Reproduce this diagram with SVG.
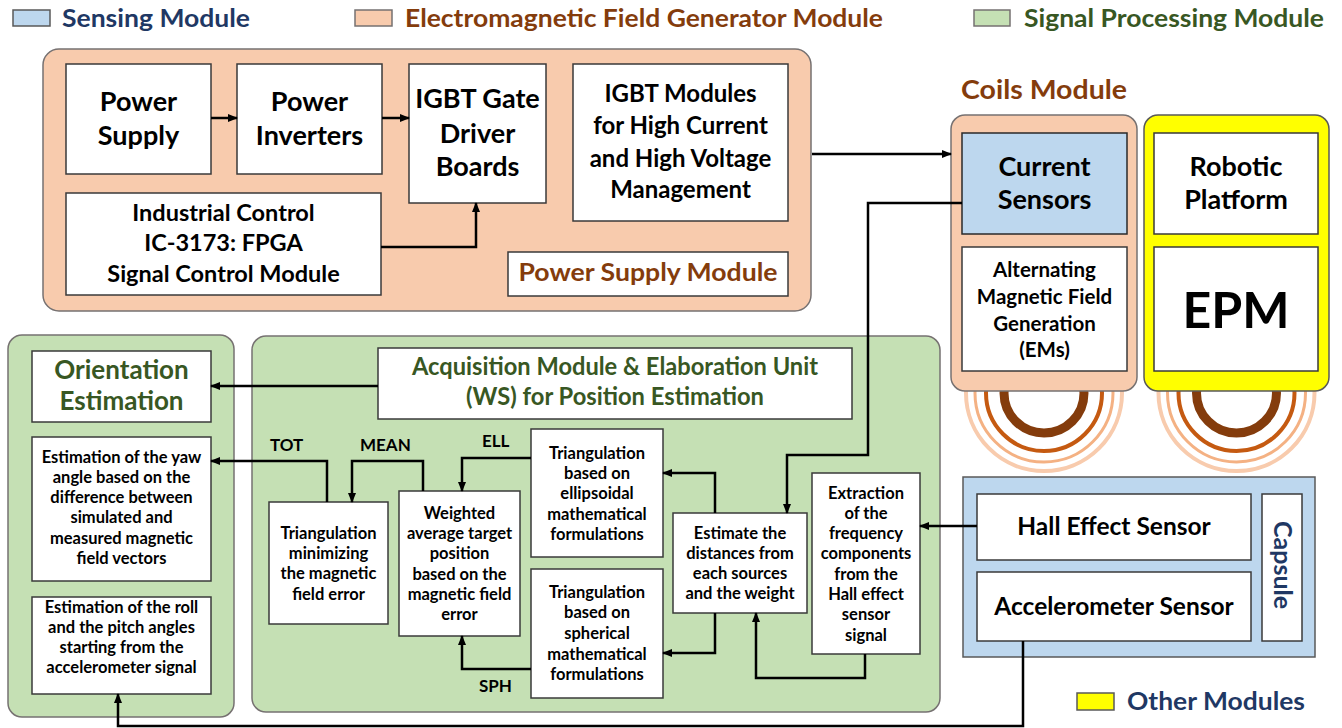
<svg xmlns="http://www.w3.org/2000/svg" width="1342" height="728" viewBox="0 0 1342 728">
<defs>
<marker id="ah" markerUnits="userSpaceOnUse" markerWidth="10" markerHeight="10" refX="9" refY="5" orient="auto">
<path d="M0,1 L10,5 L0,9 z" fill="#000"/>
</marker>
<style>
text{font-family:Lato,"Liberation Sans",sans-serif;font-weight:bold;text-anchor:middle;fill:#000}
.st{text-anchor:start}
.box{fill:#fff;stroke:#3a3a3a;stroke-width:1.5}
.peach{fill:#f8cbad;stroke:#767171;stroke-width:1.5}
.green{fill:#c5e0b4;stroke:#767171;stroke-width:1.5}
.blue{fill:#bdd7ee;stroke:#595959;stroke-width:1.5}
.yellow{fill:#ffff00;stroke:#595959;stroke-width:1.5}
.navy{fill:#1f3864}
.brown{fill:#843c0c}
.dg{fill:#385723}
.c{fill:none;stroke:#000;stroke-width:2.5}
.ca{fill:none;stroke:#000;stroke-width:2.5;marker-end:url(#ah)}
.leg{font-size:25px}
.big{font-size:27px}
.mid{font-size:24px}
.mid2{font-size:23.5px}
.hs{font-size:24.5px}
.ori{font-size:26px}
.sm{font-size:20.5px}
.xs{font-size:16.5px}
.lab{font-size:17px}
.a1{fill:none;stroke:#843c0c;stroke-width:9}
.a2{fill:none;stroke:#c55a11;stroke-width:4}
.a3{fill:none;stroke:#f4b183;stroke-width:3}
.a4{fill:none;stroke:#f8cbad;stroke-width:4}
</style>
</defs>

<g id="legend">
<rect class="blue" x="13" y="10" width="37" height="16"/>
<text class="leg navy st" x="62" y="27" textLength="188" lengthAdjust="spacingAndGlyphs">Sensing Module</text>
<rect class="peach" x="355" y="10" width="37" height="16"/>
<text class="leg brown st" x="405" y="27" textLength="478" lengthAdjust="spacingAndGlyphs">Electromagnetic Field Generator Module</text>
<rect class="green" x="974" y="10" width="36" height="16"/>
<text class="leg dg st" x="1024" y="27" textLength="300" lengthAdjust="spacingAndGlyphs">Signal Processing Module</text>
<rect class="yellow" x="1077" y="693" width="37" height="17"/>
<text class="leg navy st" x="1127" y="710" textLength="178" lengthAdjust="spacingAndGlyphs">Other Modules</text>
</g>

<g id="coil-arcs">
<circle class="a4" cx="1044" cy="393" r="78"/>
<circle class="a3" cx="1044" cy="393" r="69"/>
<circle class="a2" cx="1044" cy="393" r="58"/>
<circle class="a1" cx="1044" cy="393" r="40"/>
<circle class="a4" cx="1236.5" cy="393" r="78"/>
<circle class="a3" cx="1236.5" cy="393" r="69"/>
<circle class="a2" cx="1236.5" cy="393" r="58"/>
<circle class="a1" cx="1236.5" cy="393" r="40"/>
</g>

<g id="emfg-module">
<rect class="peach" x="43" y="49" width="768" height="262" rx="16"/>
</g>
<g id="power-supply">
<rect class="box" x="66" y="64" width="145" height="110"/>
<text class="big" x="138.5" y="111">Power</text>
<text class="big" x="138.5" y="145">Supply</text>
</g>
<g id="power-inverters">
<rect class="box" x="237" y="64" width="145" height="110"/>
<text class="big" x="309.5" y="111">Power</text>
<text class="big" x="309.5" y="145">Inverters</text>
</g>
<g id="igbt-gate">
<rect class="box" x="409" y="64" width="137" height="139"/>
<text class="big" x="477.5" y="108">IGBT Gate</text>
<text class="big" x="477.5" y="143">Driver</text>
<text class="big" x="477.5" y="176">Boards</text>
</g>
<g id="igbt-modules">
<rect class="box" x="573" y="64" width="215" height="157"/>
<text class="mid" x="680.5" y="102">IGBT Modules</text>
<text class="mid" x="680.5" y="134">for High Current</text>
<text class="mid" x="680.5" y="167">and High Voltage</text>
<text class="mid" x="680.5" y="198">Management</text>
</g>
<g id="industrial-control">
<rect class="box" x="66" y="193" width="315" height="102"/>
<text class="mid2" x="223.5" y="221">Industrial Control</text>
<text class="mid2" x="223.5" y="251">IC-3173: FPGA</text>
<text class="mid2" x="223.5" y="282">Signal Control Module</text>
</g>
<g id="power-supply-module">
<rect class="box" x="508" y="252" width="280" height="44"/>
<text class="mid brown" x="648" y="281" textLength="259" lengthAdjust="spacingAndGlyphs">Power Supply Module</text>
</g>

<g id="coils-module">
<text class="big brown st" x="961" y="99" textLength="166" lengthAdjust="spacingAndGlyphs">Coils Module</text>
<rect class="peach" x="951" y="115" width="186" height="276" rx="14"/>
</g>
<g id="current-sensors">
<rect class="blue" x="962" y="133" width="165" height="101" style="stroke:#2a2a2a"/>
<text class="big" x="1044.5" y="176">Current</text>
<text class="big" x="1044.5" y="209">Sensors</text>
</g>
<g id="alternating-field">
<rect class="box" x="962" y="247" width="165" height="124"/>
<text class="sm" x="1044.5" y="277">Alternating</text>
<text class="sm" x="1044.5" y="304">Magnetic Field</text>
<text class="sm" x="1044.5" y="331">Generation</text>
<text class="sm" x="1044.5" y="357">(EMs)</text>
</g>

<g id="other-modules">
<rect class="yellow" x="1144" y="115" width="185" height="276" rx="14"/>
</g>
<g id="robotic-platform">
<rect class="box" x="1154" y="133" width="164" height="101"/>
<text class="big" x="1236" y="176">Robotic</text>
<text class="big" x="1236" y="209">Platform</text>
</g>
<g id="epm">
<rect class="box" x="1154" y="247" width="164" height="124"/>
<text x="1236" y="328" style="font-size:50px">EPM</text>
</g>

<g id="capsule">
<rect class="blue" x="963" y="477" width="352" height="180"/>
<rect class="box" x="1262" y="494" width="40" height="147"/>
<text class="navy" style="font-size:25px" transform="translate(1274,565) rotate(90)" x="0" y="0">Capsule</text>
</g>
<g id="hall-sensor">
<rect class="box" x="977" y="494" width="274" height="66"/>
<text class="hs" x="1114" y="535">Hall Effect Sensor</text>
</g>
<g id="accelerometer">
<rect class="box" x="977" y="572" width="274" height="69"/>
<text class="hs" x="1114" y="615">Accelerometer Sensor</text>
</g>

<g id="orientation-module">
<rect class="green" x="8" y="335" width="226" height="382" rx="14"/>
</g>
<g id="orientation-estimation">
<rect class="box" x="32" y="351" width="179" height="71"/>
<text class="ori dg" x="121.5" y="379">Orientation</text>
<text class="ori dg" x="121.5" y="410">Estimation</text>
</g>
<g id="yaw-estimation">
<rect class="box" x="32" y="437" width="179" height="144"/>
<text class="xs" x="121.5" y="463">Estimation of the yaw</text>
<text class="xs" x="121.5" y="483">angle based on the</text>
<text class="xs" x="121.5" y="503">difference between</text>
<text class="xs" x="121.5" y="523">simulated and</text>
<text class="xs" x="121.5" y="544">measured magnetic</text>
<text class="xs" x="121.5" y="564">field vectors</text>
</g>
<g id="roll-pitch-estimation">
<rect class="box" x="32" y="597" width="179" height="97"/>
<text class="xs" x="121.5" y="613">Estimation of the roll</text>
<text class="xs" x="121.5" y="633">and the pitch angles</text>
<text class="xs" x="121.5" y="653">starting from the</text>
<text class="xs" x="121.5" y="673">accelerometer signal</text>
</g>

<g id="acquisition-module">
<rect class="green" x="252" y="336" width="688" height="376" rx="14"/>
</g>
<g id="acquisition-title">
<rect class="box" x="378" y="348" width="474" height="71"/>
<text class="mid dg" x="615" y="375" textLength="406" lengthAdjust="spacingAndGlyphs">Acquisition Module &amp; Elaboration Unit</text>
<text class="mid dg" x="615" y="405" textLength="298" lengthAdjust="spacingAndGlyphs">(WS) for Position Estimation</text>
</g>
<g id="triangulation-min">
<rect class="box" x="269" y="502" width="119" height="122"/>
<text class="xs" x="328.5" y="539">Triangulation</text>
<text class="xs" x="328.5" y="559">minimizing</text>
<text class="xs" x="328.5" y="579">the magnetic</text>
<text class="xs" x="328.5" y="600">field error</text>
</g>
<g id="weighted-average">
<rect class="box" x="399" y="491" width="121" height="145"/>
<text class="xs" x="459.5" y="519">Weighted</text>
<text class="xs" x="459.5" y="539">average target</text>
<text class="xs" x="459.5" y="559">position</text>
<text class="xs" x="459.5" y="580">based on the</text>
<text class="xs" x="459.5" y="600">magnetic field</text>
<text class="xs" x="459.5" y="620">error</text>
</g>
<g id="triangulation-ell">
<rect class="box" x="531" y="429" width="132" height="128"/>
<text class="xs" x="597" y="459">Triangulation</text>
<text class="xs" x="597" y="479">based on</text>
<text class="xs" x="597" y="499">ellipsoidal</text>
<text class="xs" x="597" y="520">mathematical</text>
<text class="xs" x="597" y="540">formulations</text>
</g>
<g id="triangulation-sph">
<rect class="box" x="531" y="569" width="132" height="129"/>
<text class="xs" x="597" y="598">Triangulation</text>
<text class="xs" x="597" y="618">based on</text>
<text class="xs" x="597" y="639">spherical</text>
<text class="xs" x="597" y="660">mathematical</text>
<text class="xs" x="597" y="680">formulations</text>
</g>
<g id="estimate-distances">
<rect class="box" x="673" y="513" width="134" height="100"/>
<text class="xs" x="740" y="539">Estimate the</text>
<text class="xs" x="740" y="559">distances from</text>
<text class="xs" x="740" y="579">each sources</text>
<text class="xs" x="740" y="599">and the weight</text>
</g>
<g id="extraction">
<rect class="box" x="812" y="473" width="108" height="181"/>
<text class="xs" x="866" y="499">Extraction</text>
<text class="xs" x="866" y="519">of the</text>
<text class="xs" x="866" y="539">frequency</text>
<text class="xs" x="866" y="559">components</text>
<text class="xs" x="866" y="580">from the</text>
<text class="xs" x="866" y="600">Hall effect</text>
<text class="xs" x="866" y="620">sensor</text>
<text class="xs" x="866" y="641">signal</text>
</g>

<g id="connectors">
<path class="ca" d="M211,118 H237"/>
<path class="ca" d="M382,118 H409"/>
<path class="ca" d="M381,247 H476 V203"/>
<path class="ca" d="M812,154 H951"/>
<path class="ca" d="M962,203 H868 V455 H787 V513"/>
<path class="ca" d="M977,526 H920"/>
<path class="ca" d="M1023,641 V726 H118 V694"/>
<path class="ca" d="M378,386 H211"/>
<path class="ca" d="M327,502 V461 H211"/>
<path class="ca" d="M423,491 V461 H352 V502"/>
<path class="ca" d="M531,458 H462 V491"/>
<path class="ca" d="M531,669 H462 V636"/>
<path class="ca" d="M715,513 V473 H663"/>
<path class="ca" d="M715,613 V653 H663"/>
<path class="ca" d="M865,654 V678 H756 V613"/>
<text class="lab st" x="270" y="451">TOT</text>
<text class="lab st" x="360" y="451">MEAN</text>
<text class="lab st" x="482" y="447">ELL</text>
<text class="lab st" x="479" y="692">SPH</text>
</g>
</svg>
